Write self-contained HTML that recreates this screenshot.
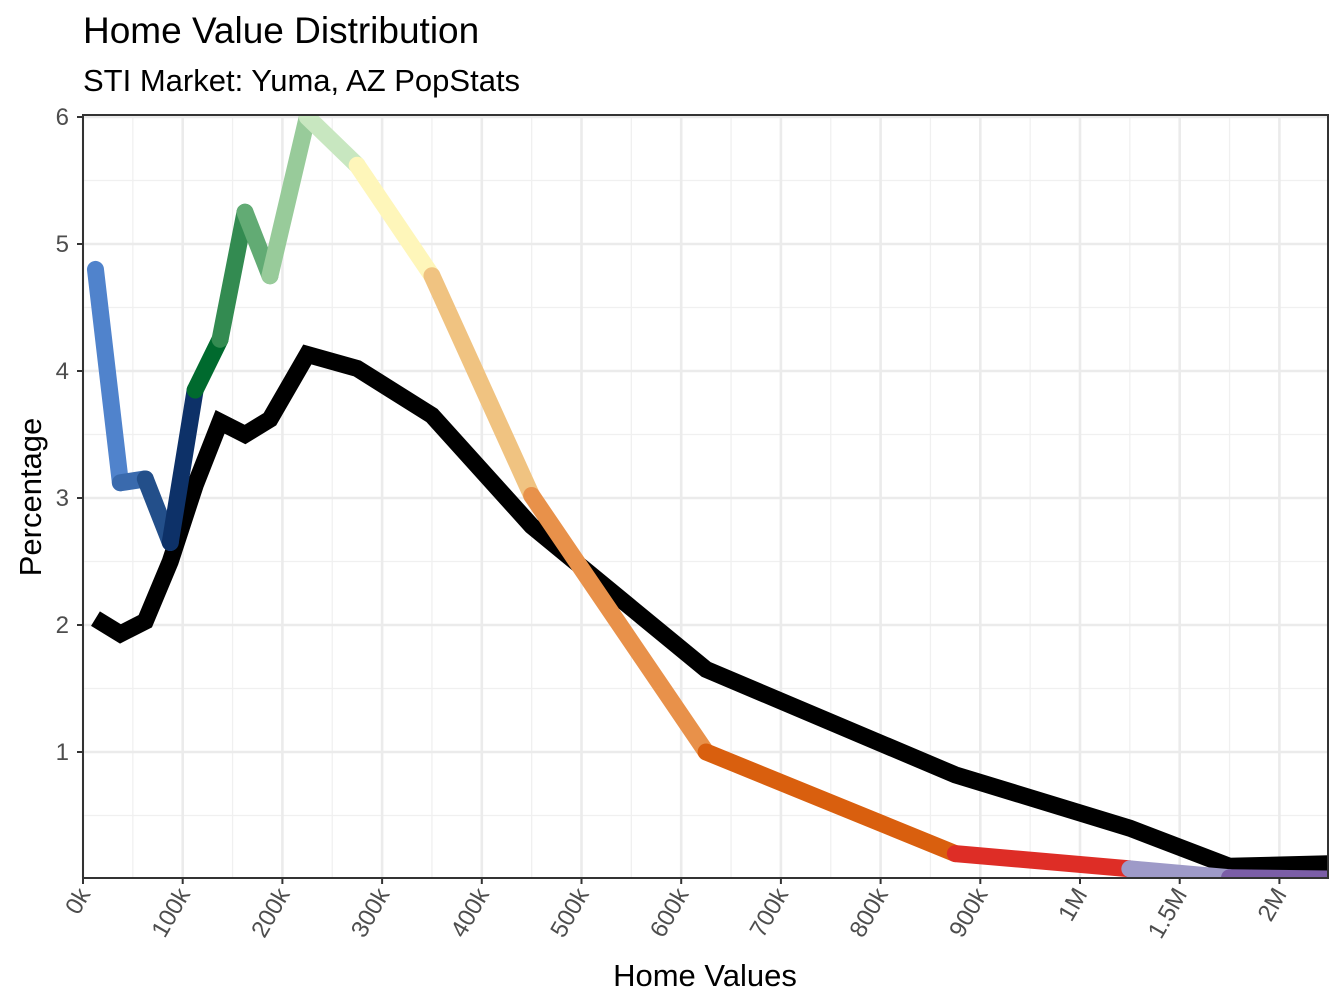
<!DOCTYPE html>
<html><head><meta charset="utf-8">
<style>
body{margin:0;background:#fff;}
svg{display:block;font-family:"Liberation Sans",Arial,sans-serif;}
</style></head>
<body>
<svg id="chart" width="1344" height="1008" viewBox="0 0 1344 1008">
<text x="83" y="43" font-size="37" fill="#000">Home Value Distribution</text>
<text x="83" y="91" font-size="31" fill="#000">STI Market: Yuma, AZ PopStats</text>
<g id="grid"></g>
<g id="lines"></g>
<rect x="83" y="115" width="1245" height="763" fill="none" stroke="#333" stroke-width="2"/>
<g id="axes"></g>
<text x="705" y="986" font-size="31" text-anchor="middle">Home Values</text>
<text transform="translate(41,497) rotate(-90)" font-size="31" text-anchor="middle">Percentage</text>
</svg>
<script>
// data (home values in $k)
const homeValues = [12.5,37.5,62.5,87.5,112.5,137.5,162.5,187.5,225,275,350,450,625,875,1250,1750,2250];
const marketPct = [4.8,3.12,3.15,2.65,3.85,4.25,5.25,4.75,6.0,5.62,4.75,3.02,1.0,0.2,0.08,0.01,0.0];
const popstatsPct = [2.05,1.93,2.03,2.5,3.1,3.6,3.5,3.62,4.13,4.02,3.65,2.78,1.65,0.82,0.4,0.1,0.12];
const segColors = ["#5083cc","#3a6aad","#234f8a","#0d3168","#006a2e","#338b51","#62ab74","#98cb9a","#c8e7c0","#fef6ba","#f0c381","#e8914a","#d95f0e","#de2d26","#9e9ac8","#7b5ea7","#54278f"];
const xTickValues = [0,100,200,300,400,500,600,700,800,900,1000,1500,2000];
const xTickLabels = ["0k","100k","200k","300k","400k","500k","600k","700k","800k","900k","1M","1.5M","2M"];
const yTicks = [1,2,3,4,5,6];

const NS="http://www.w3.org/2000/svg";
const L=83,R=1328,T=115,B=878;
function pos(v){return v<=1000? v/100 : 10+(v-1000)/500;}
function xs(v){return L+99.7*pos(v);}
function ys(p){return 879-127*p;}
function mk(tag,attrs,parent){const e=document.createElementNS(NS,tag);for(const k in attrs)e.setAttribute(k,attrs[k]);parent.appendChild(e);return e;}
const grid=document.getElementById('grid'),lines=document.getElementById('lines'),axes=document.getElementById('axes');
for(let i=0;i<12;i++){const x=L+99.7*(i+0.5);
 const g=mk('line',{x1:x,x2:x,y1:T,y2:B,stroke:'#f0f0f0','stroke-width':1.3},grid);
 
 }
for(let v=0.5;v<6;v+=1){const y=ys(v);
 const g=mk('line',{x1:L,x2:R,y1:y,y2:y,stroke:'#f0f0f0','stroke-width':1.3},grid);
 
 }
xTickValues.forEach((v,i)=>{const x=xs(v);
 const g=mk('line',{x1:x,x2:x,y1:T,y2:B,stroke:'#ebebeb','stroke-width':2.6},grid);
 
 
 const t=mk('line',{x1:x,x2:x,y1:B,y2:B+6,stroke:'#333','stroke-width':2},axes);
 
 
 const lb=mk('text',{transform:`translate(${x+8},${B+16}) rotate(-60)`,'text-anchor':'end','font-size':24,fill:'#4d4d4d'},axes);
 lb.textContent=xTickLabels[i];
 
 });
yTicks.forEach(v=>{const y=ys(v);
 const g=mk('line',{x1:L,x2:R,y1:y,y2:y,stroke:'#ebebeb','stroke-width':2.6},grid);
 
 
 const t=mk('line',{x1:L-6,x2:L,y1:y,y2:y,stroke:'#333','stroke-width':2},axes);
 
 
 const lb=mk('text',{x:L-14,y:y+8,'text-anchor':'end','font-size':24,fill:'#4d4d4d'},axes);
 lb.textContent=v;
 
 });
const defs=mk('defs',{},document.getElementById('chart'));
const cp=mk('clipPath',{id:'pc'},defs);mk('rect',{x:L,y:T,width:R-L,height:B-T},cp);
lines.setAttribute('clip-path','url(#pc)');
const pts=homeValues.map((v,i)=>xs(v)+','+ys(popstatsPct[i])).join(' ');
const bl=mk('polyline',{points:pts,fill:'none',stroke:'#000','stroke-width':17,'stroke-linejoin':'miter'},lines);


for(let i=0;i<homeValues.length-1;i++){
 const s=mk('line',{x1:xs(homeValues[i]),y1:ys(marketPct[i]),x2:xs(homeValues[i+1]),y2:ys(marketPct[i+1]),stroke:segColors[i],'stroke-width':17,'stroke-linecap':'round'},lines);
 
 }
</script>
</body></html>
